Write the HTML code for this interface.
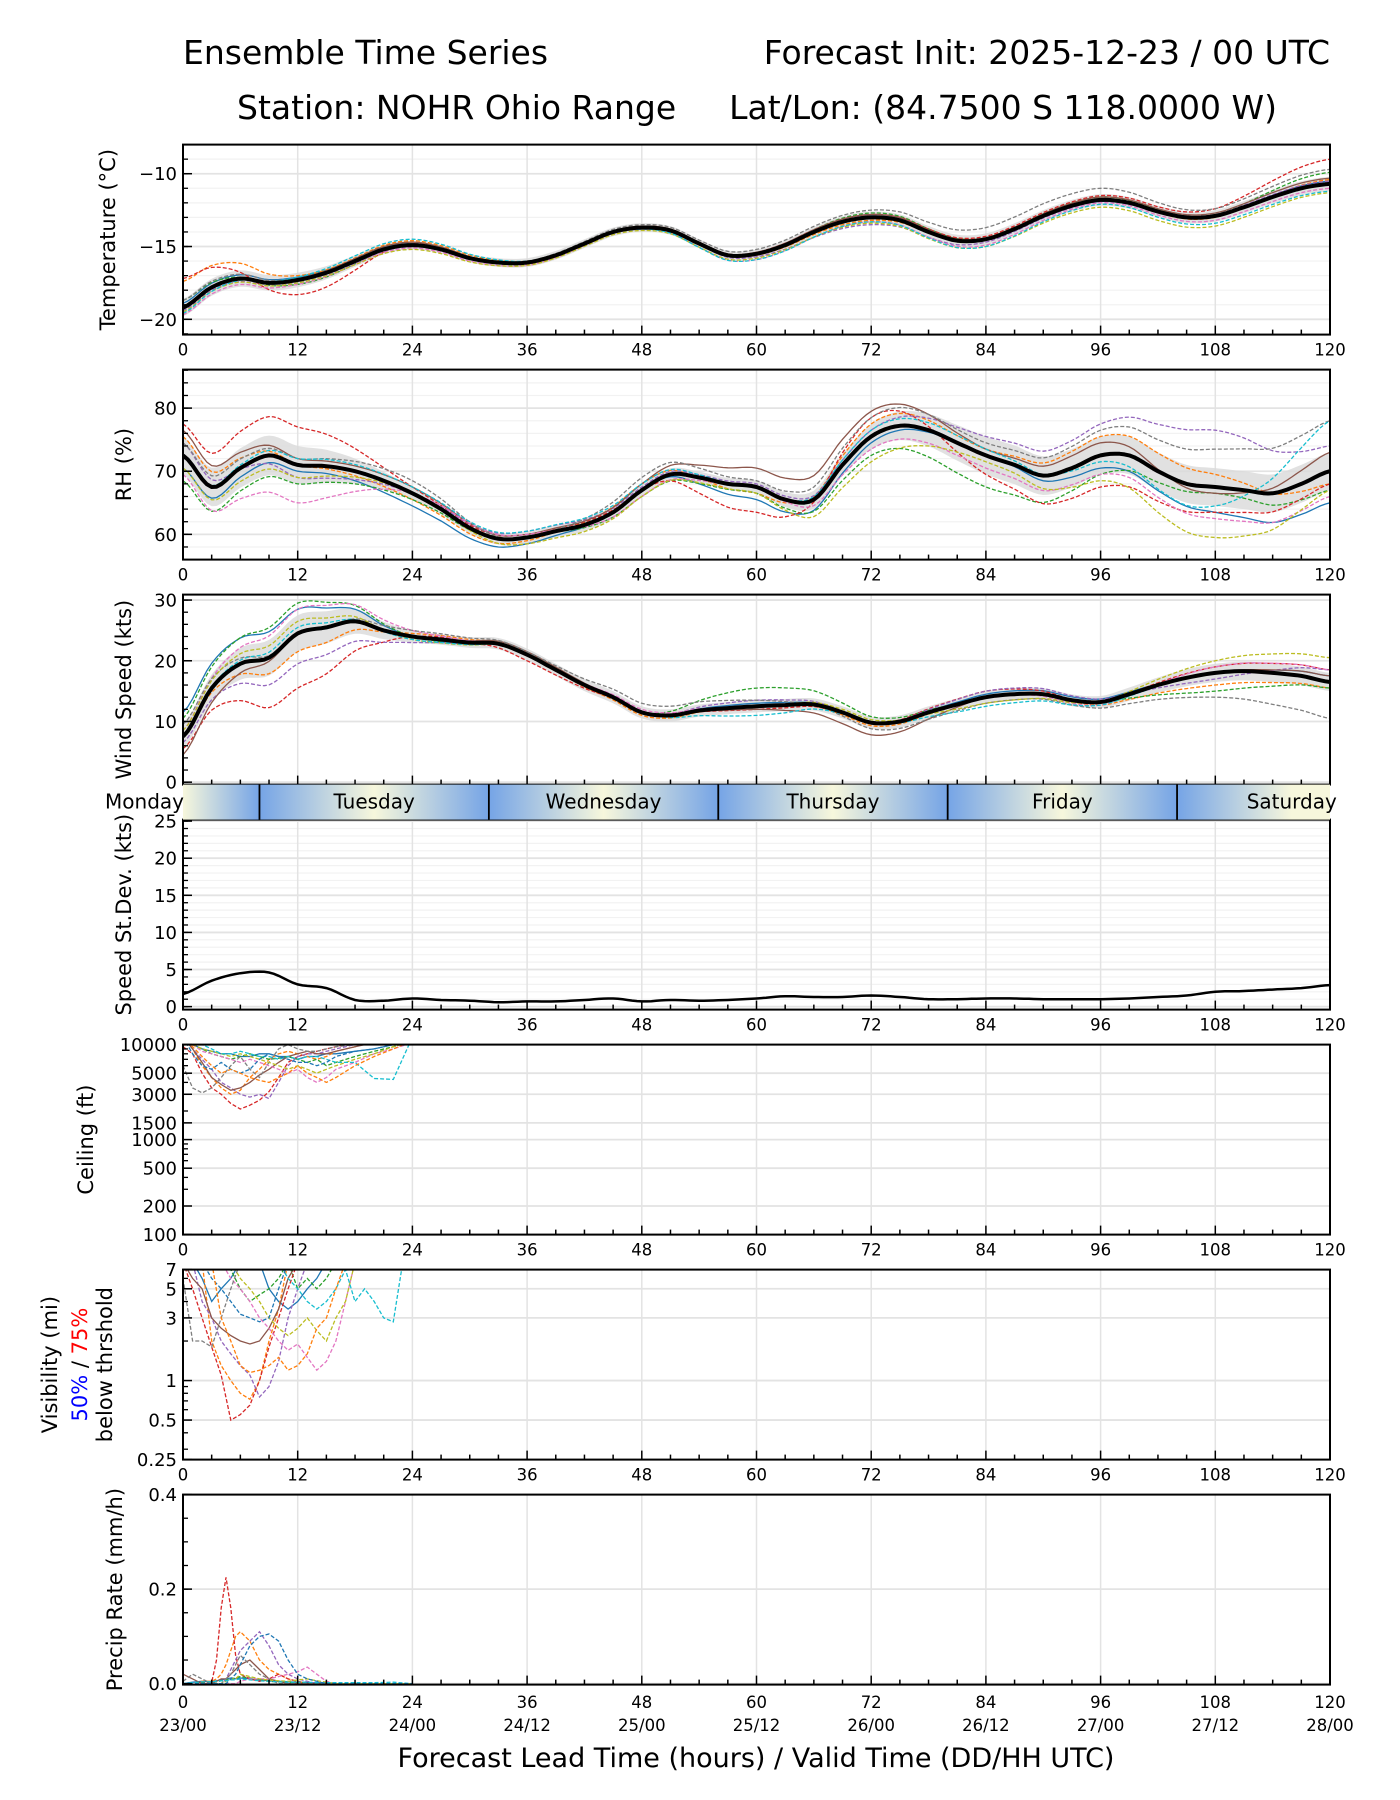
<!DOCTYPE html>
<html><head><meta charset="utf-8"><title>Ensemble Time Series</title>
<style>
html,body{margin:0;padding:0;background:#fff;}
svg{display:block;font-family:"DejaVu Sans","Liberation Sans",sans-serif;}
</style></head>
<body>
<svg id="chart" xmlns="http://www.w3.org/2000/svg" width="1400" height="1800" viewBox="0 0 1400 1800">
<text x="183" y="64" font-size="33">Ensemble Time Series</text>
<text x="1330" y="64" font-size="33" text-anchor="end">Forecast Init: 2025-12-23 / 00 UTC</text>
<text x="237" y="119" font-size="33">Station: NOHR Ohio Range</text>
<text x="1277" y="119" font-size="33" text-anchor="end">Lat/Lon: (84.7500 S 118.0000 W)</text>
<text x="756" y="1767" font-size="27" text-anchor="middle">Forecast Lead Time (hours) / Valid Time (DD/HH UTC)</text>
</svg>
<script>
// ---- data ----
const meanHours=[0,3,6,9,12,15,18,21,24,27,30,33,36,39,42,45,48,51,54,57,60,63,66,69,72,75,78,81,84,87,90,93,96,99,102,105,108,111,114,117,120];
const tempMean=[-19.2,-17.8,-17.2,-17.5,-17.3,-16.8,-16.0,-15.2,-14.9,-15.2,-15.8,-16.1,-16.1,-15.6,-14.8,-14.0,-13.7,-13.9,-14.8,-15.6,-15.5,-14.9,-14.0,-13.3,-13.0,-13.2,-14.0,-14.6,-14.5,-13.8,-12.9,-12.2,-11.8,-12.0,-12.6,-13.0,-12.9,-12.3,-11.6,-11.0,-10.7];
const rhMean=[72.5,67.5,70.5,72.5,71,70.8,70,68.5,66.5,64,61,59.3,59.5,60.5,61.5,63.5,67,69.5,69,68,67.5,65.5,65.5,71,75.5,77.2,76.5,74.5,72.5,71,69.3,70.5,72.5,72.5,70,68,67.5,67,66.5,68,70];
const windMean=[7.5,15.5,19.5,20.5,24.5,25.5,26.5,25,24,23.5,23,22.8,21,18.5,16,14,11.5,11,11.8,12.2,12.5,12.7,12.8,11.5,9.8,10,11.5,12.8,14,14.5,14.5,13.5,13.2,14.5,16,17.2,18,18.3,18,17.5,16.5];
const sdevMean=[1.7,3.5,4.5,4.6,3.0,2.5,0.9,0.8,1.1,0.9,0.8,0.6,0.7,0.7,0.9,1.1,0.7,0.9,0.8,0.9,1.1,1.4,1.3,1.3,1.5,1.3,1.0,1.0,1.1,1.1,1.0,1.0,1.0,1.1,1.3,1.5,2.0,2.1,2.3,2.5,2.9];
const devHours=[0,12,24,36,48,60,72,84,96,108,120];
const tempDevs=[
[0.3,0.2,0.1,0,-0.1,0,0.1,0,-0.1,0,0.2],[1.8,0.3,0.3,0.1,0,-0.1,-0.2,0.1,0,-0.1,0.3],
[0.5,-0.3,0,-0.1,0.1,0,0.3,0.1,0.2,0.1,0.8],[2,-1,0.1,-0.1,0,0.1,0.2,0.2,0.3,0.5,1.7],
[-0.2,-0.2,-0.1,0,0,-0.2,-0.5,-0.2,-0.1,0.1,0.2],[0,0.1,0.2,0,0.1,0.1,0.2,0.1,0.2,0.2,0.4],
[-0.5,-0.3,-0.2,-0.2,-0.1,-0.4,-0.3,-0.4,-0.2,-0.3,-0.3],[0.5,0.1,0.1,0.1,0.2,0.3,0.5,0.8,0.8,0.5,1.0],
[-0.3,-0.2,-0.3,-0.2,-0.2,-0.3,-0.4,-0.5,-0.5,-0.7,-0.6],[-0.4,0.2,0.4,0.1,-0.1,-0.4,-0.3,-0.5,-0.3,-0.5,-0.5]];
const rhDevs=[
[-2,-1,-2,-1,0,-2,-1,0,-2,-4,-5],[3,0,-1,-0.5,1,-1,2,1,3,2,-2],[-4,-3,-1,0,-1,-1,-3,-5,-3,-1,-3],
[5,6,1,0.5,0,-4,3,-3,-5,-4,-2],[2,-2,0,1,0.5,0.5,1,3,5,9,4],[4,1,1,0.5,1,3,4,1,2,-1,3],
[-3,-6,0,0.5,-1,0,-2,-2,-3,-5,-4],[2,1,2,0,2,1,3,2,4,6,8],[-2,-2,0,-1,-1,-1,-4,-1,-4,-8,-3],
[0,1,1,1,1,0,1,1,-1,-3,8]];
const windDevs=[
[4,4,0,0,0,0.5,0,0.5,0.5,0,1],[0,-3,0.5,0,-0.5,0,-0.5,0,-0.5,-2,-1],[3,5,0,0,0,3,1,0,0,-3,-1],
[-2,-9,0,-1,0,-0.5,0,1,0,1,2],[-1,-5,-1,0,0,1,0,1,0.5,-1,2],[-3,0,0,0.5,0,-0.5,-2,0,0,0,1],
[1,4,1,0,0.5,0,0,0,-0.5,1,2],[2,0,1,0.5,1.5,1,-1,-1,-1,-4,-6],[1,2,-0.5,0,0,0,0.5,-1,0,2,4],
[0,1,-0.5,0,0,-1.5,0,-1.5,-0.5,0,0]];
const tempSpread=[0.6,0.5,0.3,0.3,0.3,0.3,0.4,0.4,0.4,0.4,0.5];
const rhSpread=[3,3,1,1,1,1,2,3,3,3,3];
const windSpread=[2,3,1,1,1,1,1,1,1,1.5,1.5];
const ceilHours=[0,1,2,3,4,5,6,7,8,9,10,11,12,13,14,15,16,18,20,22,24];
const ceilMembers=[
[12000,10000,9000,8500,8000,8000,7500,7500,8000,8000,7500,7500,7000,7500,7500,8000,8000,8500,9000,10000,11000],
[12000,9000,6000,4500,3500,3000,3300,4500,5500,7000,8000,8500,8000,7500,7000,7500,8500,9500,11000,12000,12000],
[12000,10000,9000,8000,7500,7000,7500,8000,7500,7000,7200,7500,7000,6500,7000,6000,6500,7500,8500,9500,11000],
[9500,8000,5000,3500,3000,2400,2100,2300,2600,3200,4500,6500,7500,8000,8500,9000,9500,10500,12000,12000,12000],
[12000,9000,7000,5500,4000,3500,3000,2800,3000,2700,4000,6000,7500,8000,8000,8500,9000,10000,11000,12000,12000],
[12000,9000,6500,4500,3800,3300,3500,4000,4800,5500,6500,7500,8000,8500,8000,8000,8500,9500,10500,12000,12000],
[12000,10000,8500,8000,7500,7000,6500,7000,6500,6000,5500,5000,5500,4500,4000,4500,5500,6500,8000,9000,10500],
[6000,3500,3100,3500,4500,6000,7500,5500,4500,6500,9000,10000,9000,8500,8500,9000,9500,10000,11000,12000,12000],
[12000,10000,9000,8500,8000,7500,8000,7500,7000,6500,6000,5500,6000,5500,5000,5500,6000,7000,8000,9500,11000],
[12000,11000,10000,9000,8000,8000,8500,8000,7500,7500,7000,7500,7000,7500,7500,7000,6500,6500,4400,4300,12000],
[12000,8000,6000,5500,6500,5500,5000,5500,7000,8000,7500,7000,6500,6500,6000,6500,7500,8500,9000,10000,11000],
[12000,9500,7500,6000,5000,5500,5000,4500,4200,4000,4500,5000,6000,5000,4500,4000,4500,6000,7500,9000,11000]];
const visHours=[0,1,2,3,4,5,6,7,8,9,10,11,12,13,14,15,16,17,18,19,20,21,22,23];
const visMembers=[
[8,8,6,4,5,6,8,8,8,5,4,3.5,4,5,6,8,8,8,8,8,8,8,8,8],
[8,8,8,2,1.3,1,0.8,0.72,1,2,3.5,8,8,8,8,8,8,8,8,8,8,8,8,8],
[8,8,8,8,8,7,5,4,4.5,5,6,8,5,6,5,6,8,8,8,8,8,8,8,8],
[8,5,3,1.8,1.1,0.5,0.55,0.65,1,1.8,3,5,8,8,8,8,8,8,8,8,8,8,8,8],
[8,8,4,3,2,1.6,1.3,1.1,0.75,0.9,1.4,3,5,8,8,8,8,8,8,8,8,8,8,8],
[8,6,5,3,2.5,2.2,2,1.9,2,2.5,3.5,6,8,8,8,8,8,8,8,8,8,8,8,8],
[8,8,8,8,8,6,5,4,3,2.5,2,1.7,1.9,1.5,1.2,1.4,2,4,8,8,8,8,8,8],
[6,2,2,1.8,3,5,8,8,8,8,8,8,8,8,8,8,8,8,8,8,8,8,8,8],
[8,8,8,8,8,8,6,5,4,3,2.5,2.2,2.5,3,2.4,2,3,4,8,8,8,8,8,8],
[8,8,8,8,8,8,8,8,8,8,8,6,5,4,3.5,4,5,7,4,5,4,3,2.8,8],
[8,8,8,6,5,4,3.2,3,2.8,3,5,8,8,8,8,8,8,8,8,8,8,8,8,8],
[8,8,8,8,3,2,1.3,1.15,1.2,1.3,1.5,1.2,1.3,1.6,2.5,3,5,8,8,8,8,8,8,8]];
const precipHours=[0,1,2,3,3.5,4,4.5,5,5.5,6,7,8,9,10,11,12,13,14,15,16,18,20,22,24];
const precipMembers=[
[0,0.003,0.005,0.004,0.006,0.008,0.01,0.012,0.01,0.012,0.01,0.008,0.006,0.005,0.004,0.003,0.002,0.002,0.001,0,0,0,0,0],
[0,0,0.005,0.005,0.01,0.02,0.04,0.07,0.1,0.11,0.09,0.05,0.03,0.02,0.01,0.005,0,0,0,0,0,0,0,0],
[0,0,0.002,0.003,0.004,0.006,0.008,0.01,0.012,0.015,0.012,0.008,0.005,0.004,0.003,0.002,0.001,0,0,0,0,0,0,0],
[0,0,0,0.003,0.05,0.16,0.225,0.16,0.06,0.02,0.01,0.005,0.01,0.02,0.01,0.005,0,0,0,0,0,0,0,0],
[0,0,0,0,0,0,0.01,0.03,0.05,0.07,0.09,0.11,0.08,0.04,0.02,0.01,0.005,0,0,0,0,0,0,0],
[0.02,0.01,0,0,0.005,0.01,0.01,0.02,0.03,0.04,0.05,0.03,0.01,0.005,0,0,0,0,0,0,0,0,0,0],
[0,0,0,0,0,0,0,0,0,0.005,0.01,0.01,0.01,0.015,0.02,0.025,0.035,0.02,0.005,0,0,0,0,0],
[0.005,0.02,0.01,0,0,0,0.01,0.02,0.04,0.06,0.04,0.02,0.01,0,0,0,0,0,0,0,0,0,0,0],
[0,0,0,0,0,0,0.005,0.01,0.01,0.02,0.015,0.01,0.008,0.006,0.005,0.008,0.01,0.006,0.003,0,0,0,0,0],
[0,0.002,0.004,0.004,0.005,0.006,0.006,0.008,0.008,0.01,0.008,0.006,0.005,0.004,0.003,0.003,0.003,0.002,0.002,0.002,0.002,0.002,0.003,0],
[0,0,0,0,0,0,0,0.01,0.02,0.04,0.08,0.1,0.105,0.09,0.05,0.02,0.01,0.005,0,0,0,0,0,0]];
const xTickLabels=["0","12","24","36","48","60","72","84","96","108","120"];
const dateLabels=["23/00","23/12","24/00","24/12","25/00","25/12","26/00","26/12","27/00","27/12","28/00"];
const dayNames=["Monday","Tuesday","Wednesday","Thursday","Friday","Saturday"];
const dayBoundaries=[8,32,56,80,104];

// ---- layout ----
const NS="http://www.w3.org/2000/svg";
const svg=document.getElementById('chart');
const X0=183,X1=1330;
const xs=h=>X0+h/120*(X1-X0);
const COLORS=["#1f77b4","#ff7f0e","#2ca02c","#d62728","#9467bd","#8c564b","#e377c2","#7f7f7f","#bcbd22","#17becf","#1f77b4","#ff7f0e"];
const DASH=[false,true,true,true,true,false,true,true,true,true,true,true];
function mk(tag,attrs,parent){const e=document.createElementNS(NS,tag);for(const k in attrs)e.setAttribute(k,attrs[k]);(parent||svg).appendChild(e);return e;}
function interp(xa,ya,x){for(let i=0;i<xa.length-1;i++){if(x<=xa[i+1]){const t=(x-xa[i])/(xa[i+1]-xa[i]);return ya[i]+t*(ya[i+1]-ya[i]);}}return ya[ya.length-1];}
function smooth(xa,ya,x){ // catmull-rom
  let i=0;while(i<xa.length-2&&x>xa[i+1])i++;
  const t=(x-xa[i])/(xa[i+1]-xa[i]);
  const p0=ya[Math.max(0,i-1)],p1=ya[i],p2=ya[i+1],p3=ya[Math.min(ya.length-1,i+2)];
  const t2=t*t,t3=t2*t;
  return 0.5*((2*p1)+(-p0+p2)*t+(2*p0-5*p1+4*p2-p3)*t2+(-p0+3*p1-3*p2+p3)*t3);
}

function makePanel(idx,cfg){
  const top=144.6+225*idx,H=190,bot=top+H;
  const lo=cfg.log?Math.log10(cfg.min):cfg.min, hi=cfg.log?Math.log10(cfg.max):cfg.max;
  const ys=v=>{const vv=cfg.log?Math.log10(v):v;return bot-(vv-lo)/(hi-lo)*H;};
  const g=mk('g',{});
  
  
  const cp=mk('clipPath',{id:'clip'+idx},g);
  mk('rect',{x:X0,y:top,width:X1-X0,height:H},cp);
  if(cfg.minorGrid){for(let v=Math.ceil(cfg.min/cfg.minor)*cfg.minor;v<=cfg.max;v+=cfg.minor){
    const l=mk('line',{x1:X0,x2:X1,y1:ys(v),y2:ys(v),stroke:'#f2f2f2','stroke-width':1.2},g);
    
    }}
  for(let h=12;h<120;h+=12){const l=mk('line',{x1:xs(h),x2:xs(h),y1:top,y2:bot,stroke:'#e3e3e3','stroke-width':1.5},g);
    
    }
  cfg.ticks.forEach(v=>{const l=mk('line',{x1:X0,x2:X1,y1:ys(v),y2:ys(v),stroke:'#e3e3e3','stroke-width':1.8},g);
    
    });
  const data=mk('g',{'clip-path':'url(#clip'+idx+')'},g);
  
  
  if(cfg.draw)cfg.draw(data,ys);
  for(let h=0;h<=120;h+=3){const L=(h%12===0)?9:5;mk('line',{x1:xs(h),x2:xs(h),y1:bot,y2:bot-L,stroke:'#000','stroke-width':1.5},g);}
  (cfg.minorTicks||[]).forEach(v=>{mk('line',{x1:X0,x2:X0+5,y1:ys(v),y2:ys(v),stroke:'#000','stroke-width':1.3},g);});
  cfg.ticks.forEach((v,i)=>{mk('line',{x1:X0,x2:X0+9,y1:ys(v),y2:ys(v),stroke:'#000','stroke-width':1.5},g);
    const t=mk('text',{x:X0-6,y:ys(v)+6.5,'font-size':18,'text-anchor':'end'},g);t.textContent=cfg.tickLabels[i];
    
    });
  mk('rect',{x:X0,y:top,width:X1-X0,height:H,fill:'none',stroke:'#000','stroke-width':2},g);
  if(cfg.xlabels){xTickLabels.forEach((s,i)=>{const t=mk('text',{x:xs(i*12),y:bot+21,'font-size':16.5,'text-anchor':'middle'},g);t.textContent=s;
    
    });}
  (cfg.ylabel||[]).forEach(lab=>{const t=mk('text',{transform:`translate(${lab.x},${top+H/2}) rotate(-90)`,'font-size':21,'text-anchor':'middle'},g);
    
    
    lab.parts.forEach(p=>{const s=mk('tspan',{fill:p[1]},t);s.textContent=p[0];});});
  return {top,bot,ys};
}
function pathFrom(pts){return pts.map((p,i)=>(i?'L':'M')+p[0].toFixed(1)+','+p[1].toFixed(1)).join('');}
function drawEnsemble(mean,devs,spread){return (g,ys)=>{
  const fine=[];for(let h=0;h<=120;h+=0.5)fine.push(h);
  const mv=h=>smooth(meanHours,mean,h);
  const up=fine.map(h=>[xs(h),ys(mv(h)+smooth(devHours,spread,h))]);
  const dn=fine.map(h=>[xs(h),ys(mv(h)-smooth(devHours,spread,h))]).reverse();
  const band=mk('path',{d:pathFrom(up.concat(dn))+'Z',fill:'#d9d9d9','fill-opacity':0.8},g);
  
  
  devs.forEach((d,m)=>{const pts=fine.map(h=>[xs(h),ys(mv(h)+smooth(devHours,d,h))]);
    const p=mk('path',{d:pathFrom(pts),fill:'none',stroke:COLORS[m],'stroke-width':1.3,'stroke-dasharray':DASH[m]?'4,2':'none'},g);
    
    });
  const pm=mk('path',{d:pathFrom(fine.map(h=>[xs(h),ys(mv(h))])),fill:'none',stroke:'#000','stroke-width':4,'stroke-linejoin':'round'},g);
  
  
};}
function drawMembers(hours,members,floor){return (g,ys)=>{
  members.forEach((d,m)=>{const pts=hours.map((h,i)=>[xs(h),ys(Math.max(d[i],floor))]);
    const p=mk('path',{d:pathFrom(pts),fill:'none',stroke:COLORS[m],'stroke-width':1.3,'stroke-dasharray':DASH[m]?'4,2':'none'},g);
    
    });
};}
function range(a,b,s){const r=[];for(let v=a;v<=b+1e-9;v+=s)r.push(+v.toFixed(4));return r;}

makePanel(0,{name:'temperature',min:-21.05,max:-8.0,ticks:[-20,-15,-10],tickLabels:['\u221220','\u221215','\u221210'],minor:1,minorGrid:true,minorTicks:range(-21,-8,1),xlabels:true,
  ylabel:[{x:115,parts:[['Temperature (\u00b0C)','#000']]}],draw:drawEnsemble(tempMean,tempDevs,tempSpread)});
makePanel(1,{name:'rh',min:56.0,max:86.1,ticks:[60,70,80],tickLabels:['60','70','80'],minor:2,minorGrid:true,minorTicks:range(56,86,2),xlabels:true,
  ylabel:[{x:131,parts:[['RH (%)','#000']]}],draw:drawEnsemble(rhMean,rhDevs,rhSpread)});
makePanel(2,{name:'wind-speed',min:-0.4,max:30.9,ticks:[0,10,20,30],tickLabels:['0','10','20','30'],minor:2,minorTicks:range(0,30,2),
  ylabel:[{x:131,parts:[['Wind Speed (kts)','#000']]}],draw:drawEnsemble(windMean,windDevs,windSpread)});
makePanel(3,{name:'speed-stdev',min:-0.4,max:25.2,ticks:[0,5,10,15,20,25],tickLabels:['0','5','10','15','20','25'],minor:1,minorGrid:true,minorTicks:range(0,25,1),xlabels:true,
  ylabel:[{x:131,parts:[['Speed St.Dev. (kts)','#000']]}],draw:(g,ys)=>{
    const fine=[];for(let h=0;h<=120;h+=0.5)fine.push(h);
    const p=mk('path',{d:pathFrom(fine.map(h=>[xs(h),ys(smooth(meanHours,sdevMean,h))])),fill:'none',stroke:'#000','stroke-width':2.5},g);
    
    }});
makePanel(4,{name:'ceiling',log:true,min:100,max:10000,ticks:[100,200,500,1000,1500,3000,5000,10000],tickLabels:['100','200','500','1000','1500','3000','5000','10000'],xlabels:true,
  minorTicks:[300,400,600,700,800,900,2000,4000,6000,7000,8000,9000],
  ylabel:[{x:93,parts:[['Ceiling (ft)','#000']]}],draw:drawMembers(ceilHours,ceilMembers,100)});
makePanel(5,{name:'visibility',log:true,min:0.25,max:7,ticks:[0.25,0.5,1,3,5,7],tickLabels:['0.25','0.5','1','3','5','7'],xlabels:true,
  minorTicks:[0.3,0.4,0.6,0.7,0.8,0.9,2,4,6],
  ylabel:[{x:57,parts:[['Visibility (mi)','#000']]},{x:87,parts:[['50%','#0000ff'],[' / ','#000'],['75%','#ff0000']]},{x:112,parts:[['below thrshold','#000']]}],
  draw:drawMembers(visHours,visMembers,0.25)});
makePanel(6,{name:'precip-rate',min:-0.002,max:0.4,ticks:[0,0.2,0.4],tickLabels:['0.0','0.2','0.4'],minorTicks:range(0,0.4,0.05),
  ylabel:[{x:122,parts:[['Precip Rate (mm/h)','#000']]}],draw:drawMembers(precipHours,precipMembers,0)});

xTickLabels.forEach((s,i)=>{const t=mk('text',{x:xs(i*12),y:1708,'font-size':16.5,'text-anchor':'middle'});t.textContent=s;
  
  });
dateLabels.forEach((s,i)=>{const t=mk('text',{x:xs(i*12),y:1731,'font-size':16.5,'text-anchor':'middle'});t.textContent=s;
  
  });

// day strip
const sTop=784.6,sBot=819.6;
const defs=mk('defs',{});
const grad=mk('linearGradient',{id:'daygrad',x1:X0,x2:X1,y1:0,y2:0,gradientUnits:'userSpaceOnUse'},defs);
for(let h=-4;h<=124;h+=12){const local=((h+16)%24+24)%24;
  const off=Math.min(1,Math.max(0,h/120));
  mk('stop',{offset:off,'stop-color':(local===0)?'#75a4e6':'#f7f7dc'},grad);}
const strip=mk('rect',{x:X0,y:sTop,width:X1-X0,height:sBot-sTop,fill:'url(#daygrad)'});


dayBoundaries.forEach(h=>{const l=mk('line',{x1:xs(h),x2:xs(h),y1:sTop,y2:sBot,stroke:'#000','stroke-width':1.8});
  
  });
dayNames.forEach((d,i)=>{const first=i===0;
  const t=mk('text',{x:first?X0+1:xs(-4+24*i),y:sTop+24,'font-size':20,'text-anchor':first?'end':'middle'});t.textContent=d;
  
  });
</script>
</body></html>
